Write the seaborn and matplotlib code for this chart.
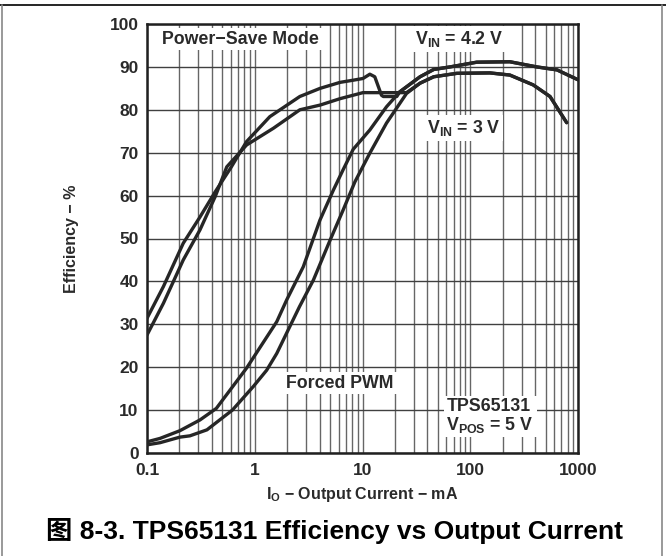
import numpy as np
import pandas as pd
import matplotlib
matplotlib.use("Agg")
import matplotlib.pyplot as plt
from matplotlib.lines import Line2D
import seaborn as sns

# output current (mA) / efficiency (%)
ps_42_i = [0.1, 0.142, 0.217, 0.31, 0.43, 0.6, 0.84, 1.38, 2.62, 4.04, 6.2, 8.2, 10.1, 11.7, 13,
           15, 15.6, 20.8, 22.2, 34.2, 45.8, 65, 115, 233, 414, 639, 1000]
ps_42_eff = [31.4, 38.8, 48.9, 55, 60.9, 66.5, 72.6, 78.4, 83.1, 85, 86.4, 86.9, 87.3, 88.3, 87.7,
             83.4, 83.1, 83.1, 84.2, 87.7, 89.4, 90, 91.1, 91.2, 90, 89.3, 87]

ps_3_i = [0.1, 0.142, 0.217, 0.31, 0.43, 0.55, 0.84, 1.49, 2.62, 4.04, 6.2, 10.1, 16.7, 25.6,
          34.2, 45.8, 75, 152, 233, 384, 550, 785]
ps_3_eff = [27.5, 34.9, 45, 52, 59.8, 66.7, 71.8, 75.7, 80, 81.1, 82.6, 84, 84, 84,
            86.2, 87.7, 88.5, 88.6, 88.1, 85.8, 83.1, 77]

pwm_42_i = [0.1, 0.132, 0.202, 0.31, 0.44, 0.84, 1.6, 1.98, 2.82, 4.03, 5.37, 6.6, 8.2, 11.7, 16.7,
            22.2, 34.2, 45.8, 65, 115, 233, 414, 639, 1000]
pwm_42_eff = [2.6, 3.4, 5.2, 7.7, 10.4, 19.8, 30.6, 35.7, 43.4, 54.3, 61.3, 66, 70.8, 75.3, 80.7,
              84.2, 87.7, 89.4, 90, 91.1, 91.2, 90, 89.3, 87]

pwm_3_i = [0.1, 0.132, 0.202, 0.25, 0.36, 0.62, 0.97, 1.29, 1.6, 2.6, 3.5, 5, 6.6, 8.5, 11.7, 16.7,
           25.6, 34.2, 45.8, 75, 152, 233, 384, 550, 785]
pwm_3_eff = [1.9, 2.4, 3.7, 4.0, 5.4, 10, 15.5, 19.3, 23.2, 34.1, 40.3, 49.6, 56.6, 63.2, 69.9, 76.9,
             83.8, 86.2, 87.7, 88.5, 88.6, 88.1, 85.8, 83.1, 77]

x_ticks = [0.1, 1, 10, 100, 1000]
x_tick_labels = ["0.1", "1", "10", "100", "1000"]
y_ticks = list(range(0, 101, 10))

sns.set_theme(style="white")
plt.rcParams["font.family"] = ["Liberation Sans", "DejaVu Sans"]
plt.rcParams["font.weight"] = "bold"
plt.rcParams["mathtext.fontset"] = "custom"
plt.rcParams["mathtext.rm"] = "Liberation Sans:bold"
plt.rcParams["mathtext.bf"] = "Liberation Sans:bold"
plt.rcParams["mathtext.it"] = "Liberation Sans:bold"
plt.rcParams["mathtext.default"] = "rm"

fig = plt.figure(figsize=(6.66, 5.56), dpi=100)
ax = fig.add_axes([147 / 666, 1 - 453 / 556, 431 / 666, 429 / 556])
ax.set_xscale("log")

line_color = "#262626"
for xs, ys in [(ps_42_i, ps_42_eff), (ps_3_i, ps_3_eff), (pwm_42_i, pwm_42_eff), (pwm_3_i, pwm_3_eff)]:
    df = pd.DataFrame({"current": xs, "eff": ys})
    sns.lineplot(data=df, x="current", y="eff", ax=ax, color=line_color, lw=2.4,
                 sort=False, estimator=None, zorder=3)

ax.set_xlim(0.1, 1000)
ax.set_ylim(0, 100)
ax.set_xticks(x_ticks)
ax.set_xticklabels(x_tick_labels)
ax.set_yticks(y_ticks)
ax.xaxis.set_minor_locator(matplotlib.ticker.LogLocator(base=10, subs=np.arange(2, 10)))
ax.xaxis.set_minor_formatter(matplotlib.ticker.NullFormatter())
ax.tick_params(axis="both", which="both", length=0, labelsize=12.5, colors="#2a2a2a")
ax.tick_params(axis="y", pad=6)
ax.tick_params(axis="x", pad=7)
for lab in ax.get_xticklabels() + ax.get_yticklabels():
    lab.set_fontweight("bold")

ax.grid(True, axis="x", which="both", color="#666666", lw=1.0, zorder=1)
ax.grid(True, axis="y", which="major", color="#404040", lw=1.0, zorder=1)
for sp in ax.spines.values():
    sp.set_visible(True)
    sp.set_color("#202020")
    sp.set_linewidth(1.8)

ax.set_xlabel(r"I$_{\rm O}$ $-$ Output Current $-$ mA", fontsize=11.5, fontweight="bold",
              color="#2a2a2a", labelpad=5)
ax.set_ylabel("Efficiency \u2212 %", fontsize=11.5, fontweight="bold", color="#2a2a2a", labelpad=22)

box = dict(facecolor="white", edgecolor="none", pad=2)
tkw = dict(fontsize=12.8, fontweight="bold", color="#2a2a2a", zorder=4, bbox=box)
ax.text(0.138, 96.5, "Power\u2212Save Mode", ha="left", va="center", **tkw)
ax.text(79, 96.5, r"V$_{\rm IN}$ = 4.2 V", ha="center", va="center", **tkw)
ax.text(87, 75.7, r"V$_{\rm IN}$ = 3 V", ha="center", va="center", **tkw)
ax.text(6.2, 16.3, "Forced PWM", ha="center", va="center", **tkw)
ax.text(60, 8.6, "TPS65131\n" + r"V$_{\rm POS}$ = 5 V", ha="left", va="center",
        linespacing=1.0, **tkw)

# outer frame of the datasheet figure
fig.add_artist(Line2D([0, 1], [1 - 5 / 556, 1 - 5 / 556], color="black", lw=1.2))
fig.add_artist(Line2D([1.5 / 666, 1.5 / 666], [0, 1 - 5 / 556], color="#888888", lw=1.2))
fig.add_artist(Line2D([662 / 666, 662 / 666], [0, 1 - 5 / 556], color="#888888", lw=1.2))

fig.text(334 / 666, 1 - 531 / 556, "\u56fe 8-3. TPS65131 Efficiency vs Output Current",
         ha="center", va="center", fontsize=19, fontweight="bold", color="black",
         family=["Liberation Sans", "Noto Sans CJK SC"])

fig.savefig("out.png", dpi=100)
